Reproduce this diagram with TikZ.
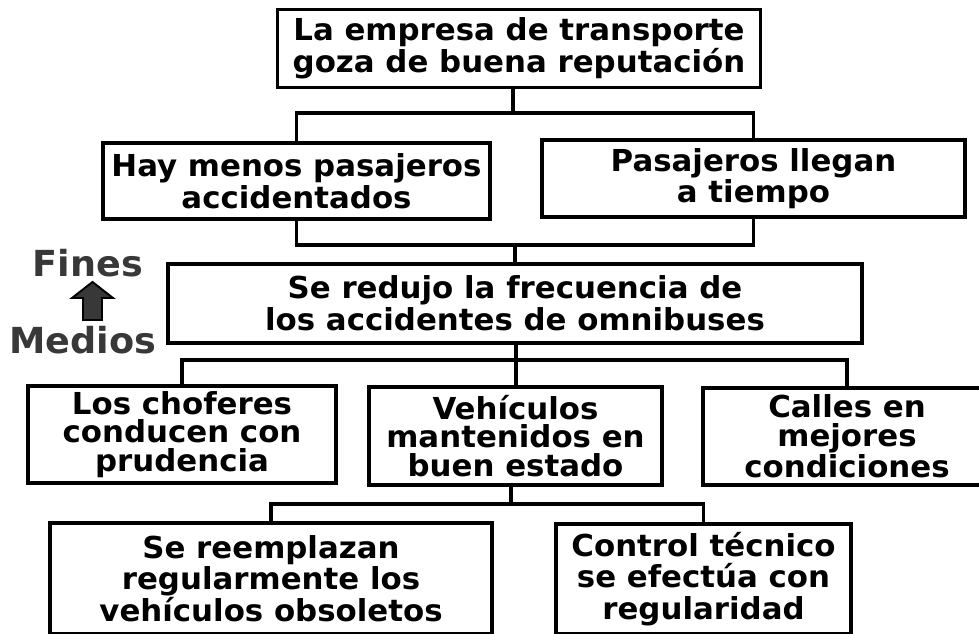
\documentclass[tikz,border=0pt]{standalone}
\usepackage{fontspec}
\setmainfont{DejaVu Sans}[FakeStretch=1.02]
\begin{document}
\begin{tikzpicture}
  [x=0.025cm,y=-0.025cm]
      \tikzstyle{box_style} = [draw=black, line width=2.6pt, fill=white, inner sep=0pt, align=center, font=\fontsize{21.5}{22.5}\selectfont\bfseries]
      \tikzstyle{tight_style} = [box_style, font=\fontsize{21.5}{20.5}\selectfont\bfseries]
      \tikzstyle{edge_style} = [draw=black, line width=2.6pt]
      \tikzstyle{side_label} = [text=black!78, inner sep=0pt, font=\fontsize{25.5}{25.5}\selectfont\bfseries]
      \tikzset{box_size/.style 2 args={minimum width=#1*0.025cm, minimum height=#2*0.025cm}}
  \clip (0,0) rectangle (979,633);

  \node[box_style, box_size={483}{78}] (top) at (519,48.5) {La empresa de transporte\\goza de buena reputación};
  \node[box_style, box_size={387}{76}] (hay) at (296.5,181) {Hay menos pasajeros\\accidentados};
  \node[box_style, box_size={423}{77}] (pas) at (753.5,178.5) {Pasajeros llegan\\a tiempo};
  \node[box_style, box_size={694}{79}] (red) at (515,303.5) {Se redujo la frecuencia de\\los accidentes de omnibuses};
  \node[tight_style, box_size={308}{97}] (cho) at (182,434.5) {Los choferes\\conducen con\\prudencia};
  \node[tight_style, box_size={293}{98}] (veh) at (515.5,436) {Vehículos\\mantenidos en\\buen estado};
  \node[tight_style, box_size={288}{97}] (cal) at (847,436.5) {Calles en\\mejores\\condiciones};
  \node[box_style, box_size={442}{111}] (ree) at (271,578.5) {Se reemplazan\\regularmente los\\vehículos obsoletos};
  \node[box_style, box_size={295}{110}] (con) at (703.5,579) {Control técnico\\se efectúa con\\regularidad};

  \node[side_label] (fines) at (88,263) {Fines};
  \node[side_label] (medios) at (83,340) {Medios};
  \draw[fill=black!78, line width=1.4pt] (83,320) -- (83,298) -- (72,298) -- (92.5,282) -- (113,298) -- (102,298) -- (102,320) -- cycle;

  \coordinate (j1) at (513,113);
  \coordinate (j2) at (515,245);
  \coordinate (j3) at (516,360);
  \coordinate (j4) at (511,504);

  \draw[edge_style] (j1 |- top.south) -- (j1);
  \draw[edge_style] (hay.north) |- (j1) -| (pas.north);
  \draw[edge_style] (hay.south) |- (j2) -| (pas.south);
  \draw[edge_style] (j2) -- (j2 |- red.north);
  \draw[edge_style] (j3 |- red.south) -- (j3);
  \draw[edge_style] (cho.north) |- (j3) -| (cal.north);
  \draw[edge_style] (j3) -- (j3 |- veh.north);
  \draw[edge_style] (j4 |- veh.south) -- (j4);
  \draw[edge_style] (ree.north) |- (j4) -| (con.north);
\end{tikzpicture}
\end{document}
